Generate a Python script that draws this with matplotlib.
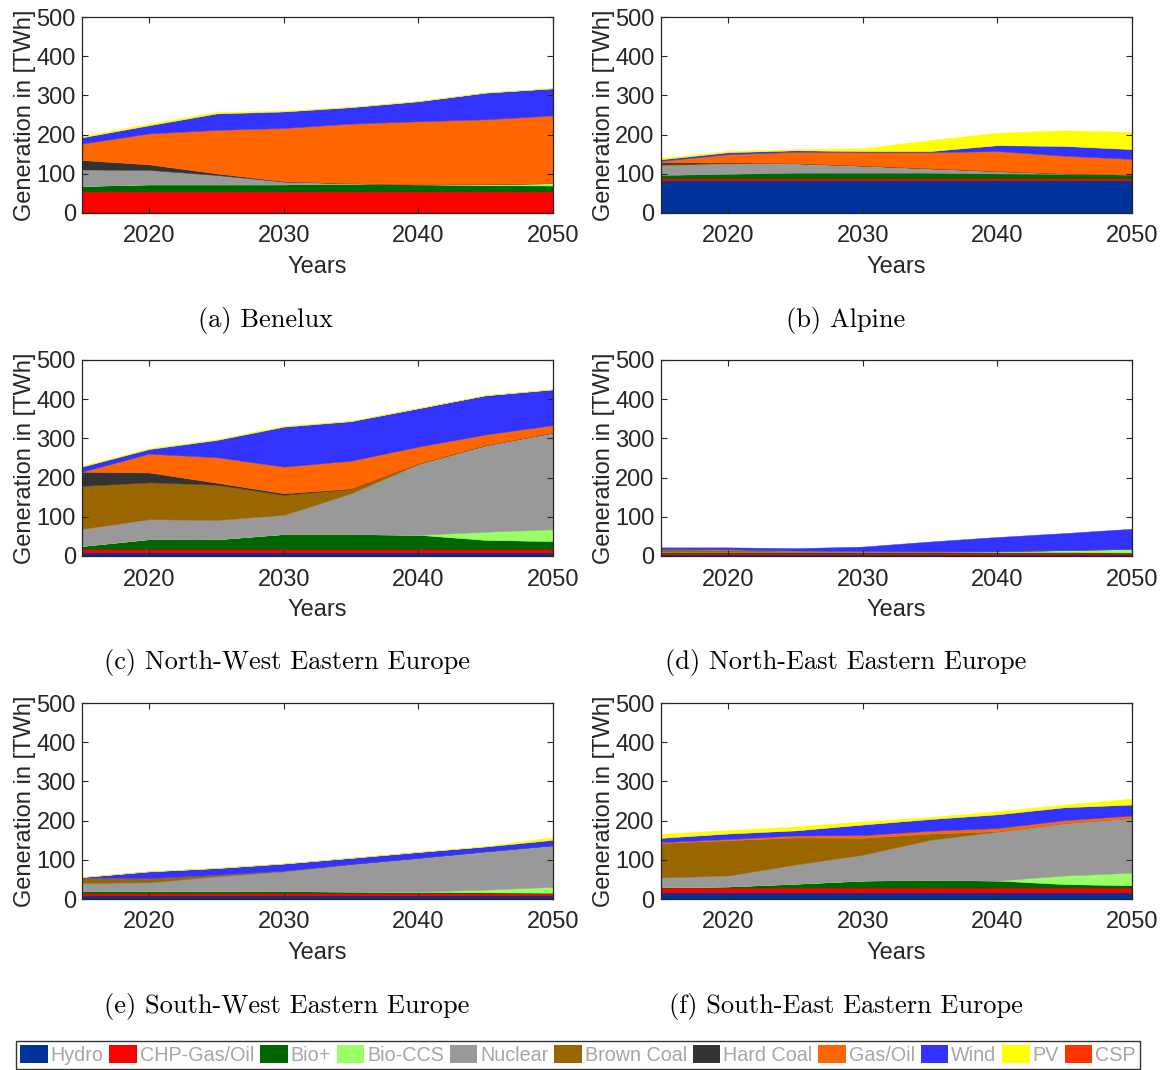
import matplotlib
matplotlib.use("Agg")
import matplotlib.pyplot as plt
from matplotlib.patches import Patch

# ---- data -------------------------------------------------------------
years = [2015, 2020, 2025, 2030, 2035, 2040, 2045, 2050]

technologies = ["Hydro", "CHP-Gas/Oil", "Bio+", "Bio-CCS", "Nuclear",
                "Brown Coal", "Hard Coal", "Gas/Oil", "Wind", "PV", "CSP"]

tech_colors = ["#003399", "#FF0000", "#006600", "#99FF66", "#999999",
               "#996600", "#333333", "#FF6600", "#3333FF", "#FFFF00", "#FF3300"]

captions = ["(a) Benelux", "(b) Alpine", "(c) North-West Eastern Europe",
            "(d) North-East Eastern Europe", "(e) South-West Eastern Europe",
            "(f) South-East Eastern Europe"]

# generation per technology in TWh (order as in `technologies`)
benelux = [
    [0, 0, 0, 0, 0, 0, 0, 0],
    [55, 55, 55, 55, 55, 55, 55, 55],
    [14, 18, 18, 18, 20, 18, 16, 15],
    [0, 0, 0, 0, 0, 0, 3, 6],
    [42, 37, 24, 7, 1, 0, 0, 0],
    [0, 0, 0, 0, 0, 0, 0, 0],
    [24, 14, 4, 1, 0, 0, 0, 0],
    [42, 79, 111, 136, 152, 161, 165, 173],
    [16, 21, 42, 42, 42, 51, 68, 69],
    [3, 4, 4, 2, 1, 1, 0.5, 0.5],
    [0, 0, 0, 0, 0, 0, 0, 0],
]

alpine = [
    [82, 82, 82, 82, 82, 82, 82, 82],
    [6, 6, 6, 6, 6, 6, 6, 6],
    [9, 12, 15, 15, 15, 13, 12, 10],
    [0, 0, 0, 0, 0, 0, 0, 0],
    [25, 27, 24, 18, 11, 6, 1, 0],
    [2, 1, 0, 0, 0, 0, 0, 0],
    [5, 1, 0, 0, 0, 0, 0, 0],
    [4, 21, 29, 34, 41, 51, 45, 40],
    [4, 5, 4, 3, 3, 15, 25, 25],
    [4, 3, 3, 7, 28, 32, 40, 44],
    [0, 0, 0, 0, 0, 0, 0, 0],
]

nw_eastern = [
    [7, 7, 7, 7, 7, 7, 7, 7],
    [11, 11, 11, 11, 11, 11, 11, 11],
    [7.5, 25, 24.5, 38, 38, 36, 23, 20],
    [0, 0, 0, 0, 0, 0, 21, 30],
    [43.5, 51, 49.5, 49, 104, 181, 221, 247],
    [110, 94, 90, 51, 11, 1, 0, 0],
    [36, 25, 5, 4, 1, 0, 0, 0],
    [0, 48, 65, 68, 71, 43, 27, 19],
    [13, 12, 44, 102, 101, 98, 100, 91],
    [2, 2, 2, 2, 1, 0.5, 0.3, 0.3],
    [0, 0, 0, 0, 0, 0, 0, 0],
]

ne_eastern = [
    [3, 3, 3, 3, 3, 3, 3, 3],
    [4, 4, 4, 4, 4, 4, 4, 4],
    [3, 3, 3, 3, 3, 3, 3, 2],
    [0, 0, 0, 0, 0, 1, 5, 9],
    [1, 1, 1, 1, 1, 1, 0, 0],
    [6, 5, 2, 1, 0, 0, 0, 0],
    [0, 0, 0, 0, 0, 0, 0, 0],
    [1, 1, 1, 1, 1, 0.5, 0.5, 0.5],
    [4, 5, 6, 11, 25, 36, 43, 51],
    [0, 0, 0, 0, 0, 0, 0, 0],
    [0, 0, 0, 0, 0, 0, 0, 0],
]

sw_eastern = [
    [7, 7, 7, 7, 7, 7, 7, 7],
    [8, 8, 8, 8, 8, 8, 8, 8],
    [5, 6, 6, 5, 4, 3, 2, 1],
    [0, 0, 0, 0, 0, 1, 7, 15],
    [21, 21.5, 37, 50.5, 70, 86, 97.5, 106],
    [12.5, 11, 4, 2, 0.5, 0, 0, 0],
    [0, 0, 0, 0, 0, 0, 0, 0],
    [0, 0, 0, 0, 0, 0, 0, 0],
    [2.5, 17, 17, 18, 15.5, 15, 12.5, 14],
    [0, 0, 0, 0, 0, 0, 1, 7],
    [0, 0, 0, 0, 0, 0, 0, 0],
]

se_eastern = [
    [15, 15, 15, 15, 15, 15, 15, 15],
    [14, 14, 14, 14, 14, 14, 14, 14],
    [1, 3, 10, 18, 20, 18, 9, 6],
    [0, 0, 0, 0, 0, 0, 22, 32],
    [25, 28, 49, 66, 102, 125, 134, 140],
    [88, 90, 69, 43, 16, 1, 0, 0],
    [0, 0, 0, 0, 0, 0, 0, 0],
    [2, 3, 5, 7, 7, 8, 7, 6],
    [11, 14, 13, 27, 30, 35, 33, 28],
    [10, 9, 10, 8, 5, 8, 7, 15],
    [0, 0, 0, 0, 0, 0, 0, 0],
]

regions = [benelux, alpine, nw_eastern, ne_eastern, sw_eastern, se_eastern]

# ---- figure -----------------------------------------------------------
W, H = 1172, 1070
fig = plt.figure(figsize=(W / 100, H / 100), dpi=100)

sans = ["Liberation Sans", "DejaVu Sans"]
serif = ["cmr10", "DejaVu Serif"]
ink = "#262626"

col_left = [82, 661]
ax_w = 471
row_top = [17, 360, 703]
ax_h = 196
caption_x = [266, 846, 287, 846, 287, 846]
caption_y = [320, 663, 1006]

for i, data in enumerate(regions):
    r, c = divmod(i, 2)
    x0 = col_left[c]
    y0 = row_top[r]
    ax = fig.add_axes([x0 / W, 1 - (y0 + ax_h) / H, ax_w / W, ax_h / H])
    polys = ax.stackplot(years, *data, colors=tech_colors, linewidth=0)
    # thin same-colour outline closes anti-aliasing seams between layers
    for poly, series in zip(polys, data):
        if max(series) > 0:
            poly.set_edgecolor(poly.get_facecolor())
            poly.set_linewidth(0.3)
    ax.set_xlim(2015, 2050)
    ax.set_ylim(0, 500)
    ax.set_xticks([2020, 2030, 2040, 2050])
    ax.set_yticks([0, 100, 200, 300, 400, 500])
    ax.tick_params(direction="in", length=4, width=0.8, top=True,
                   right=True, colors=ink, labelsize=17, pad=4.5)
    ax.tick_params(axis="x", pad=9)
    for lab in ax.get_xticklabels() + ax.get_yticklabels():
        lab.set_fontfamily(sans)
    for sp in ax.spines.values():
        sp.set_color(ink)
        sp.set_linewidth(0.9)
    ax.set_xlabel("Years", fontsize=17, family=sans, color=ink)
    ax.set_ylabel("Generation in [TWh]", fontsize=17, family=sans, color=ink)
    ax.xaxis.set_label_coords(0.499, -0.22)
    ax.yaxis.set_label_coords(-0.098, 0.5)
    ax.set_axisbelow(False)

    fig.text(caption_x[i] / W, 1 - caption_y[r] / H, captions[i],
             ha="center", va="center", fontsize=19, family=serif,
             color="black")

handles = [Patch(facecolor=col, edgecolor="none") for col in tech_colors]
leg = fig.legend(handles, technologies, loc="center",
                 bbox_to_anchor=(578 / W, 1 - 1055 / H), ncol=11,
                 prop={"family": sans, "size": 14.2},
                 handlelength=1.4, handleheight=1.05, handletextpad=0.15,
                 columnspacing=0.29, borderpad=0.2, borderaxespad=0,
                 frameon=True, fancybox=False, framealpha=1)
leg.get_frame().set_edgecolor("#333333")
leg.get_frame().set_linewidth(1.0)
for t in leg.get_texts():
    t.set_color("#A6A6A6")

fig.savefig("out.png", dpi=100)
